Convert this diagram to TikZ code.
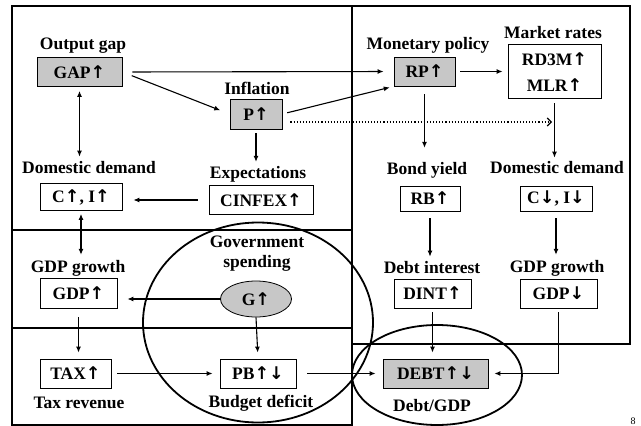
\documentclass[tikz,border=0pt]{standalone}
\usepackage{fontspec}
\setmainfont{Liberation Serif}
\newfontfamily\arwfont{DejaVu Sans}
\newcommand\myup{{\arwfont\bfseries ↑}}
\newcommand\mydn{{\arwfont\bfseries ↓}}
\usetikzlibrary{arrows.meta,shapes.geometric}
\begin{document}
\begin{tikzpicture}[x=1pt,y=-1pt,
 lbl/.style={font=\fontsize{17.5}{19}\selectfont\bfseries, inner sep=0pt},
 box/.style={draw, line width=0.8pt, fill=white, font=\fontsize{17.5}{19}\selectfont\bfseries, inner sep=0pt},
 gbox/.style={box, fill=black!22},
 arr/.style={line width=1.1pt, -{Latex[length=6pt,width=5pt]}},
 darr/.style={line width=1.1pt, {Latex[length=6pt,width=5pt]}-{Latex[length=6pt,width=5pt]}},
 frame/.style={line width=2.5pt},
 ring/.style={line width=1.8pt}]
\useasboundingbox (0,0) rectangle (641,426);
% frames
\draw[frame] (12,6) rectangle (352,230);
\draw[frame] (12,230) rectangle (352,328);
\draw[frame] (12,328) rectangle (352,425);
\draw[frame] (352,6) rectangle (630,344);
% ellipses
\draw[ring] (258,322.5) ellipse [x radius=115, y radius=100];
\draw[ring] (437,375) ellipse [x radius=85, y radius=50];
% labels
\node[lbl] (lGap) at (83,46) {Output gap};
\node[lbl] (lInf) at (257,88) {Inflation};
\node[lbl] (lDomL) at (89,168) {Domestic demand};
\node[lbl] (lExp) at (258,174) {Expectations};
\node[lbl] (lMon) at (428,45) {Monetary policy};
\node[lbl] (lMkt) at (553,33) {Market rates};
\node[lbl] (lBond) at (427,170) {Bond yield};
\node[lbl] (lDomR) at (557,168) {Domestic demand};
\node[lbl] (lDint) at (432,268) {Debt interest};
\node[lbl] (lGdpR) at (557,268) {GDP growth};
\node[lbl] (lGdpL) at (78,268) {GDP growth};
\node[lbl] (lGov1) at (257,242) {Government};
\node[lbl] (lGov2) at (257,263) {spending};
\node[lbl] (lTax) at (79,403) {Tax revenue};
\node[lbl] (lBud) at (261,403) {Budget deficit};
\node[lbl] (lDebt) at (432,406) {Debt/GDP};
\node[font=\fontsize{10}{12}\selectfont, inner sep=0pt] (pg) at (633,421) {8};
% boxes
\node[gbox, minimum width=85pt, minimum height=29pt] (GAP) at (79.5,72) {GAP\myup};
\node[gbox, minimum width=52pt, minimum height=30pt] (P) at (256,114) {P\myup};
\node[box, minimum width=82pt, minimum height=27pt] (CI) at (81,197) {C\myup, I\myup};
\node[box, minimum width=104pt, minimum height=29pt] (CINFEX) at (261,200) {CINFEX\myup};
\node[gbox, minimum width=61pt, minimum height=29pt] (RP) at (424.5,71.5) {RP\myup};
\node[box, minimum width=93pt, minimum height=54pt] (MR) at (554.5,71) {};
\node[lbl] (RD) at (554.5,59) {RD3M\myup};
\node[lbl] (MLR) at (554.5,85) {MLR\myup};
\node[box, minimum width=60pt, minimum height=25pt] (RB) at (430,198.5) {RB\myup};
\node[box, minimum width=72pt, minimum height=25pt] (CD) at (556,198.5) {C\mydn, I\mydn};
\node[box, minimum width=77pt, minimum height=29pt] (DINT) at (432.5,293.5) {DINT\myup};
\node[box, minimum width=77pt, minimum height=29pt] (GDPd) at (558.5,293.5) {GDP\mydn};
\node[gbox, minimum width=105pt, minimum height=29pt] (DEBT) at (435.5,373.5) {DEBT\myup\mydn};
\node[box, minimum width=77pt, minimum height=30pt] (GDPu) at (78.5,293) {GDP\myup};
\node[box, minimum width=71pt, minimum height=29pt] (TAX) at (75.5,373.5) {TAX\myup};
\node[box, minimum width=76pt, minimum height=29pt] (PB) at (258,373.5) {PB\myup\mydn};
\node[draw, ellipse, line width=0.8pt, fill=black!22, minimum width=71pt, minimum height=36pt, inner sep=0pt, font=\fontsize{17.5}{19}\selectfont\bfseries] (G) at (256,299) {G\myup};
\coordinate (dotE) at (552,122);
% connectors
\draw[arr, shorten <=10pt, shorten >=10pt] (GAP.east) -- (RP.west);
\draw[arr, shorten <=10pt, shorten >=10pt] (GAP.east) -- (P.west);
\draw[arr, shorten <=5pt, shorten >=4pt] (P.east) -- (RP.south west);
\draw[line width=1.1pt, dotted, shorten <=8pt, -{Straight Barb[length=4pt,width=8pt]}] ([yshift=-8pt]P.east) -- (dotE);
\draw[arr, shorten <=4pt, shorten >=4pt] (P.south) -- (P.south |- lExp.north);
\draw[arr, shorten <=11pt, shorten >=11pt] (CINFEX.west) -- (CINFEX.west -| CI.east);
\draw[darr, shorten <=4pt, shorten >=5pt] (GAP.south) -- (GAP.south |- lDomL.north);
\draw[darr, shorten <=3pt, shorten >=5pt] (CI.south) -- (CI.south |- lGdpL.north);
\draw[arr, shorten <=5pt, shorten >=5pt] (RP.east) -- (RP.east -| MR.west);
\draw[arr, shorten <=8pt, shorten >=14pt] (RP.south) -- (RP.south |- lBond.north);
\draw[arr, shorten <=5pt, shorten >=4pt] (MR.south) -- (MR.south |- lDomR.north);
\draw[arr, shorten <=7pt, shorten >=5pt] (RB.south) -- (RB.south |- lDint.north);
\draw[arr, shorten <=7pt, shorten >=5pt] (CD.south) -- (CD.south |- lGdpR.north);
\draw[arr, shorten <=4pt, shorten >=6pt] (DINT.south) -- (DINT.south |- DEBT.north);
\draw[arr, shorten <=4pt, shorten >=6pt] (GDPd.south) |- (DEBT.east);
\draw[arr, shorten <=11pt, shorten >=7pt] (PB.east) -- (DEBT.west);
\draw[arr, shorten >=10pt] (G.west) -- (G.west -| GDPu.east);
\draw[arr, shorten >=6pt] (G.south) -- (PB.north);
\draw[arr, shorten <=9pt, shorten >=6pt] (GDPu.south) -- (GDPu.south |- TAX.north);
\draw[arr, shorten <=6pt, shorten >=7pt] (TAX.east) -- (PB.west);
\end{tikzpicture}
\end{document}
